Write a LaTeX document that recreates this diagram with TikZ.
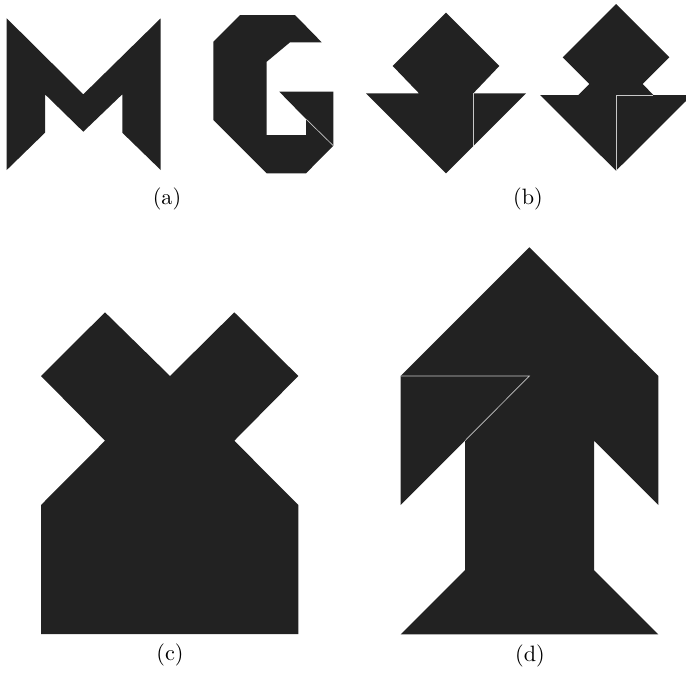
\documentclass[tikz,border=0pt]{standalone}
\definecolor{tanfill}{HTML}{222222}
\definecolor{tanseam}{HTML}{C8C8C8}

\begin{document}
\begin{tikzpicture}[x=0.45pt, y=-0.45pt, every node/.style={font=\normalsize},
    piece/.style={fill=tanfill, draw=none},
    seam/.style={draw=tanseam, line width=0.3pt}]
    \useasboundingbox (0,0) rectangle (686,672);
    \clip (0,0) rectangle (686,672);

    % (a) M
    \fill[piece] (6.7,18.3) -- (83.3,94.3) -- (160.7,18.3) -- (160.7,170) -- (122.3,132.7)
        -- (122.3,94.3) -- (83.3,131.7) -- (45,94.3) -- (45,132.7) -- (6.7,170) -- cycle;

    % (a) G
    \fill[piece] (240,15) -- (295,15) -- (321.7,42.3) -- (290,42.3) -- (266.7,61.7)
        -- (266.7,135) -- (306,135) -- (306,119) -- (279.3,91.7) -- (333.3,91.7)
        -- (333.3,145.7) -- (306,173.3) -- (266.7,173.3) -- (213.3,120) -- (213.3,41.7) -- cycle;
    \draw[seam] (306,119) -- (333.3,145.7);

    \node (capa) at (167,199) {(a)};

    % (b) links
    \fill[piece] (446,12.7) -- (499.3,66) -- (473.3,93.3) -- (526,93.3) -- (446,173.3)
        -- (366,93.3) -- (419,93.3) -- (392.7,66) -- cycle;
    \draw[seam] (473.3,93.3) -- (473.3,145.7);

    % (b) rechts
    \fill[piece] (616,4) -- (669.3,57.3) -- (642.7,84) -- (653.3,95) -- (692,95)
        -- (616,170.7) -- (540,95) -- (578.3,95) -- (589.3,84) -- (562.7,57.3) -- cycle;
    \draw[seam] (616,170.7) -- (616,95) -- (653.3,95);

    \node (capb) at (528,199) {(b)};

    % (c)
    \fill[piece] (105,312.3) -- (170,376) -- (234.3,312.3) -- (298.3,376) -- (234.3,440.7)
        -- (298.3,505) -- (298.3,634) -- (41,634) -- (41,505) -- (105,440.7)
        -- (41,376) -- cycle;

    \node (capc) at (170,655) {(c)};

    % (d)
    \fill[piece] (529.3,247.3) -- (658.3,376) -- (658.3,505) -- (594,440.7) -- (594,570)
        -- (658.3,634.3) -- (400.7,634.3) -- (465,570) -- (465,440.7) -- (400.7,505)
        -- (400.7,376) -- cycle;
    \draw[seam] (400.7,376) -- (529.3,376) -- (465,440.7);

    \node (capd) at (530,656) {(d)};
\end{tikzpicture}
\end{document}
